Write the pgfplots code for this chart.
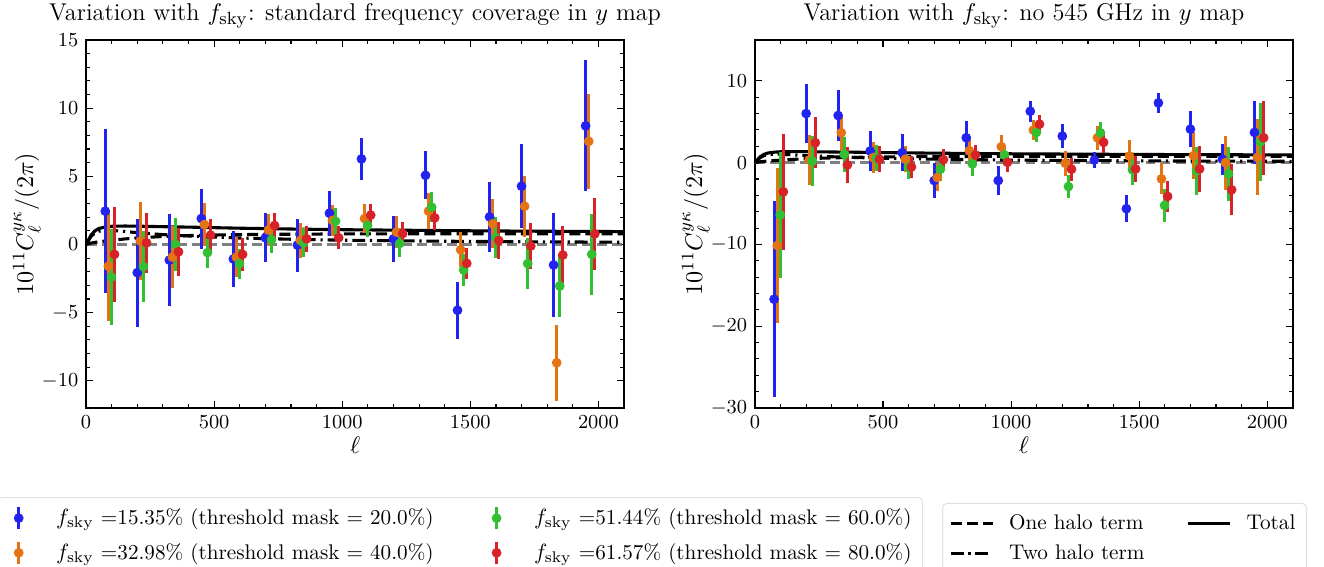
\documentclass[border=0pt]{standalone}
\usepackage{pgfplots}
\pgfplotsset{compat=1.18}
\usepackage{pgfplotstable}
\definecolor{cblue}{RGB}{35,35,240}
\definecolor{corange}{RGB}{228,115,20}
\definecolor{cgreen}{RGB}{50,192,50}
\definecolor{cred}{RGB}{215,35,40}

% left panel: standard frequency coverage
\pgfplotstableread{
lb yb eb lo yo eo lg yg eg lr yr er
75 2.44 6.0 87 -1.6 4.0 99 -2.4 3.5 111 -0.73 3.5
200 -2.07 3.97 212 0.24 2.85 224 -1.63 2.6 236 0.12 2.2
325 -1.15 3.35 337 -0.93 2.25 349 0.0 1.95 361 -0.54 1.75
450 1.9 2.2 462 1.46 1.55 474 -0.6 1.1 486 0.68 1.15
575 -1.07 2.05 587 -0.93 1.45 599 -1.41 1.1 611 -0.73 1.2
700 0.49 1.8 712 1.05 1.15 724 0.34 0.95 736 1.39 0.9
825 -0.05 1.95 837 0.29 1.3 849 0.12 1.05 861 0.41 0.97
950 2.29 1.65 962 1.76 1.16 974 1.7 1.0 986 0.49 0.86
1075 6.27 1.56 1087 1.9 1.08 1099 1.39 0.85 1111 2.15 0.85
1200 0.41 1.68 1212 0.9 1.15 1224 0.07 1.0 1236 0.8 0.87
1325 5.07 1.75 1337 2.44 1.3 1349 2.73 1.1 1361 1.95 0.9
1450 -4.83 2.1 1462 -0.39 1.27 1474 -1.88 1.2 1486 -1.39 1.15
1575 2.02 2.55 1587 1.51 1.8 1599 0.49 1.5 1611 0.29 1.37
1700 4.27 3.1 1712 2.8 2.25 1724 -1.41 1.88 1736 -0.12 1.7
1825 -1.51 3.85 1837 -8.68 2.8 1849 -3.05 2.3 1861 -0.78 2.1
1950 8.7 4.8 1962 7.56 3.5 1974 -0.73 2.97 1986 0.78 2.65
}\leftdata

% right panel: no 545 GHz
\pgfplotstableread{
lb yb eb lo yo eo lg yg eg lr yr er
75 -16.7 12.0 87 -10.13 9.5 99 -6.4 7.7 111 -3.57 7.1
200 6.0 3.65 212 0.32 3.0 224 0.2 3.0 236 2.43 3.1
325 5.76 3.1 337 3.65 2.2 349 1.01 2.1 361 -0.28 2.2
450 1.42 2.5 462 0.61 1.9 474 0.53 1.6 486 0.41 1.6
575 1.22 2.3 587 0.41 1.6 599 -0.57 1.4 611 -0.53 1.3
700 -2.19 2.1 712 -1.82 1.6 724 -0.81 1.45 736 0.36 1.3
825 3.04 2.1 837 1.46 1.5 849 -0.16 1.44 861 0.93 1.2
950 -2.19 1.8 962 1.95 1.4 974 0.93 1.2 986 0.04 1.24
1075 6.28 1.27 1087 3.97 1.2 1099 3.69 1.2 1111 4.7 1.1
1200 3.24 1.5 1212 -0.08 1.5 1224 -2.92 1.42 1236 -0.81 1.4
1325 0.32 0.97 1337 3.04 1.48 1349 3.65 1.3 1361 2.47 1.3
1450 -5.63 1.65 1462 0.81 2.0 1474 -0.89 1.8 1486 -0.77 1.6
1575 7.3 1.2 1587 -1.99 1.9 1599 -5.23 2.0 1611 -4.13 1.9
1700 4.09 2.2 1712 0.85 2.9 1724 -1.01 2.95 1736 -0.77 2.8
1825 0.41 1.9 1837 0.0 3.3 1849 -1.38 3.3 1861 -3.32 3.1
1950 3.69 3.85 1962 0.65 4.66 1974 2.55 4.8 1986 3.04 4.5
}\rightdata

% halo model curves
\pgfplotstableread{
l oneh twoh tot zero
2 0.01 0.05 0.06 0
10 0.05 0.30 0.35 0
20 0.10 0.60 0.70 0
35 0.15 0.85 1.00 0
50 0.20 0.97 1.17 0
75 0.25 1.03 1.28 0
100 0.30 1.03 1.33 0
150 0.40 0.95 1.35 0
200 0.48 0.86 1.34 0
300 0.58 0.72 1.30 0
400 0.65 0.62 1.27 0
500 0.69 0.54 1.23 0
600 0.72 0.47 1.19 0
800 0.75 0.38 1.13 0
1000 0.77 0.31 1.08 0
1250 0.78 0.26 1.04 0
1500 0.78 0.22 1.00 0
1750 0.78 0.19 0.97 0
2000 0.78 0.17 0.95 0
2100 0.78 0.16 0.94 0
}\model

\pgfplotsset{
  myax/.style={
    width=243.8pt, height=166.8pt, scale only axis,
    anchor=south west,
    xmin=0, xmax=2100,
    xtick={0,500,1000,1500,2000},
    minor x tick num=4,
    minor y tick num=4,
    tick align=inside,
    major tick length=3.3pt,
    minor tick length=1.8pt,
    tick style={black, line width=0.5pt},
    axis line style={line width=0.6pt},
    /pgf/number format/1000 sep={},
    xlabel={$\ell$},
    ylabel={$10^{11}C_\ell^{y\kappa}/(2\pi)$},
    label style={font=\fontsize{11}{13}\selectfont},
    xlabel style={at={(axis description cs:0.5,-0.1)}, anchor=center},
    ylabel style={at={(axis description cs:-0.11,0.5)}, anchor=center},
    title style={font=\fontsize{11}{13}\selectfont,
      at={(axis description cs:0.5,1)}, anchor=south, inner sep=1pt, yshift=-1.8pt},
    tick label style={font=\fontsize{9.3}{11}\selectfont},
    legend cell align=left,
    legend style={draw=gray!25, rounded corners=2pt, fill=white,
      font=\fontsize{9.6}{11.5}\selectfont, inner xsep=3pt, inner ysep=3pt},
  },
  pts/.style={only marks, mark=*, mark size=2pt, #1,
    error bars/.cd, y dir=both, y explicit, error mark=none,
    error bar style={line width=1.3pt, #1}},
  errleg/.style={#1, legend image code/.code={
      \path[draw=none, fill=none] (0pt,0pt) -- (21.5pt,0pt);
      \draw[line width=1.3pt, solid] (6.5pt,-0.18cm) -- (6.5pt,0.18cm);
      \fill (6.5pt,0cm) circle (2pt);}},
  lineleg/.style={legend image code/.code={
      \path[draw=none, fill=none] (0pt,0pt) -- (25pt,0pt);
      \draw[##1] (0.5pt,0pt) -- (19.5pt,0pt);}},
  zeroline/.style={gray, line width=1.4pt, dash pattern=on 4.5pt off 2.3pt},
  oneline/.style={black, line width=1.4pt, dash pattern=on 5pt off 2.3pt},
  twoline/.style={black, line width=1.4pt, dash pattern=on 5.8pt off 2.2pt on 1pt off 2.2pt},
  totline/.style={black, line width=1.4pt},
}

\begin{document}
\begin{tikzpicture}
\path[use as bounding box] (0pt,0pt) rectangle (600pt,256.9pt);

\begin{axis}[myax, at={(39pt,72pt)},
  ymin=-12, ymax=15, ytick={-10,-5,0,5,10,15},
  title={Variation with $f_{\mathrm{sky}}$: standard frequency coverage in $y$ map},
  legend columns=2,
  legend style={at={(-0.165,-0.242)}, anchor=north west, row sep=3pt,
    /tikz/every even column/.append style={column sep=20pt}},
]
\addplot[zeroline, forget plot] table[x=l, y=zero] {\model};
\addplot[oneline, forget plot] table[x=l, y=oneh] {\model};
\addplot[twoline, forget plot] table[x=l, y=twoh] {\model};
\addplot[totline, forget plot] table[x=l, y=tot] {\model};
\addplot[forget plot, pts=cblue] table[x=lb, y=yb, y error=eb] {\leftdata};
\addplot[forget plot, pts=corange] table[x=lo, y=yo, y error=eo] {\leftdata};
\addplot[forget plot, pts=cgreen] table[x=lg, y=yg, y error=eg] {\leftdata};
\addplot[forget plot, pts=cred] table[x=lr, y=yr, y error=er] {\leftdata};
\addlegendimage{errleg=cblue}
\addlegendentry{$f_{\mathrm{sky}}$ =15.35\% (threshold mask = 20.0\%)}
\addlegendimage{errleg=cgreen}
\addlegendentry{$f_{\mathrm{sky}}$ =51.44\% (threshold mask = 60.0\%)}
\addlegendimage{errleg=corange}
\addlegendentry{$f_{\mathrm{sky}}$ =32.98\% (threshold mask = 40.0\%)}
\addlegendimage{errleg=cred}
\addlegendentry{$f_{\mathrm{sky}}$ =61.57\% (threshold mask = 80.0\%)}
\end{axis}

\begin{axis}[myax, at={(342.1pt,72pt)},
  ymin=-30, ymax=15, ytick={-30,-20,-10,0,10},
  title={Variation with $f_{\mathrm{sky}}$: no 545 GHz in $y$ map},
  legend columns=2,
  legend style={at={(0.348,-0.258)}, anchor=north west, row sep=1.5pt,
    /tikz/every even column/.append style={column sep=17pt}},
]
\addplot[zeroline, forget plot] table[x=l, y=zero] {\model};
\addplot[oneline, forget plot] table[x=l, y=oneh] {\model};
\addplot[twoline, forget plot] table[x=l, y=twoh] {\model};
\addplot[totline, forget plot] table[x=l, y=tot] {\model};
\addplot[forget plot, pts=cblue] table[x=lb, y=yb, y error=eb] {\rightdata};
\addplot[forget plot, pts=corange] table[x=lo, y=yo, y error=eo] {\rightdata};
\addplot[forget plot, pts=cgreen] table[x=lg, y=yg, y error=eg] {\rightdata};
\addplot[forget plot, pts=cred] table[x=lr, y=yr, y error=er] {\rightdata};
\addlegendimage{oneline, lineleg}
\addlegendentry{One halo term}
\addlegendimage{totline, lineleg}
\addlegendentry{Total}
\addlegendimage{twoline, lineleg}
\addlegendentry{Two halo term}
\end{axis}
\end{tikzpicture}
\end{document}
